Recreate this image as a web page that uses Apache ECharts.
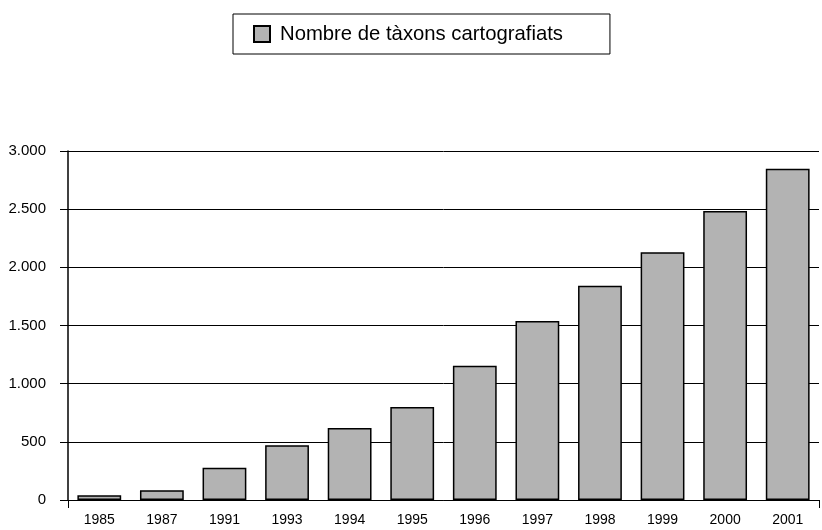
<!DOCTYPE html>
<html>
<head>
<meta charset="utf-8">
<script src="https://cdn.jsdelivr.net/npm/echarts@6/dist/echarts.min.js"></script>
<style>
  html, body { margin: 0; padding: 0; background: #fff; }
  #chart { width: 822px; height: 530px; }
</style>
</head>
<body>
<div id="chart"></div>
<script>
// dades del gràfic
var anys = ['1985', '1987', '1991', '1993', '1994', '1995', '1996', '1997', '1998', '1999', '2000', '2001'];
var taxons = [40, 83, 278, 470, 619, 800, 1155, 1539, 1842, 2129, 2484, 2848];
var nomSerie = 'Nombre de tàxons cartografiats';

var myChart = echarts.init(document.getElementById('chart'));

myChart.setOption({
    animation: false,
    textStyle: { fontFamily: '"Liberation Sans", Arial, sans-serif' },
    legend: {
        left: 233,
        top: 14,
        padding: [10, 47, 10, 20],
        borderColor: '#000',
        borderWidth: 1,
        itemWidth: 16,
        itemHeight: 16,
        icon: 'rect',
        textStyle: { fontSize: 20.3, color: '#000', padding: [0, 0, 0, 5] },
        data: [nomSerie]
    },
    grid: { left: 68, right: 3, top: 151, bottom: 30, containLabel: false },
    xAxis: {
        type: 'category',
        data: anys,
        axisLine: { lineStyle: { color: '#000', width: 1 } },
        axisTick: {
            show: true,
            length: 8,
            interval: function (i) { return i === 0; },
            lineStyle: { color: '#000' }
        },
        axisLabel: { color: '#000', fontSize: 14, margin: 13 }
    },
    yAxis: {
        type: 'value',
        min: 0,
        max: 3000,
        interval: 500,
        axisLine: { show: true, lineStyle: { color: '#000', width: 1.5 } },
        axisTick: { show: true, length: 8, lineStyle: { color: '#000' } },
        splitLine: { lineStyle: { color: '#000', width: 1 } },
        axisLabel: {
            color: '#000',
            fontSize: 15,
            margin: 22,
            formatter: function (v) { return String(v).replace(/\B(?=(\d{3})+(?!\d))/g, '.'); }
        }
    },
    series: [{
        name: nomSerie,
        type: 'bar',
        data: taxons,
        barCategoryGap: '30%',
        itemStyle: { color: '#b3b3b3', borderColor: '#000', borderWidth: 1.5 }
    }]
});
</script>
</body>
</html>
